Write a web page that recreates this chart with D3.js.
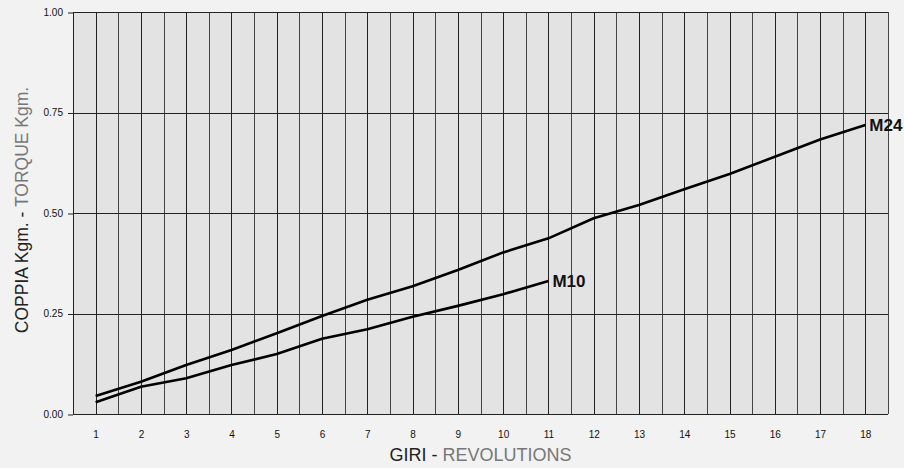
<!DOCTYPE html>
<html>
<head>
<meta charset="utf-8">
<script src="https://cdn.jsdelivr.net/npm/d3@7"></script>
<style>
  html, body { margin: 0; padding: 0; background: #f2f2f2; }
  svg { display: block; font-family: "Liberation Sans", Arial, sans-serif; }
</style>
</head>
<body>
<div id="chart"></div>
<script>
var revs = [1, 2, 3, 4, 5, 6, 7, 8, 9, 10, 11, 12, 13, 14, 15, 16, 17, 18];
var m24 = [0.045, 0.080, 0.122, 0.159, 0.201, 0.244, 0.284, 0.318, 0.358, 0.402, 0.437,
           0.487, 0.520, 0.559, 0.597, 0.640, 0.683, 0.719];
var m10 = [0.029, 0.068, 0.089, 0.122, 0.149, 0.187, 0.211, 0.242, 0.269, 0.298, 0.331];
var yTicks = [0, 0.25, 0.5, 0.75, 1];
var seriesNames = ["M24", "M10"];

function chart() {
    var W = 904, H = 468;
    var margin = {top: 12, right: 16, bottom: 54, left: 73},
        width = W - margin.left - margin.right,
        height = H - margin.top - margin.bottom;

    var x = d3.scaleLinear().domain([0.5, 18.5]).range([0, width]);
    var y = d3.scaleLinear().domain([0, 1]).range([height, 0]);

    var svg = d3.select("#chart").append("svg")
        .attr("width", W)
        .attr("height", H);

    var g = svg.append("g")
        .attr("transform", "translate(" + margin.left + "," + margin.top + ")");

    // plot background
    g.append("rect")
        .attr("width", width)
        .attr("height", height)
        .attr("fill", "#e3e3e3");

    // vertical grid every half revolution
    var halfSteps = d3.range(1, 37).map(function(i) { return 0.5 + i * 0.5; });
    g.append("g")
        .selectAll("line")
        .data(halfSteps)
        .enter().append("line")
        .attr("x1", function(d) { return Math.round(x(d)) + 0.5; })
        .attr("x2", function(d) { return Math.round(x(d)) + 0.5; })
        .attr("y1", 0)
        .attr("y2", height)
        .attr("stroke", function(d) { return d % 1 === 0 ? "#222" : "#444"; })
        .attr("stroke-width", 1);

    // horizontal grid
    g.append("g")
        .selectAll("line")
        .data(yTicks)
        .enter().append("line")
        .attr("x1", 0)
        .attr("x2", width)
        .attr("y1", function(d) { return Math.round(y(d)) + 0.5; })
        .attr("y2", function(d) { return Math.round(y(d)) + 0.5; })
        .attr("stroke", "#222");

    // left edge
    g.append("line")
        .attr("x1", 0.5).attr("x2", 0.5)
        .attr("y1", 0).attr("y2", height)
        .attr("stroke", "#222");

    // y axis
    var yAxis = d3.axisLeft(y)
        .tickValues(yTicks)
        .tickFormat(d3.format(".2f"))
        .tickSize(5)
        .tickPadding(5);
    var ya = g.append("g").call(yAxis);
    ya.select(".domain").remove();
    ya.selectAll("line").attr("stroke", "#222")
        .attr("transform", "translate(0,0.5)");
    ya.selectAll("text")
        .attr("font-size", 10)
        .attr("fill", "#111")
        .attr("font-family", "Liberation Sans, Arial, sans-serif");

    // x axis labels
    var xAxis = d3.axisBottom(x)
        .tickValues(revs)
        .tickFormat(d3.format("d"))
        .tickSize(0)
        .tickPadding(17);
    var xa = g.append("g")
        .attr("transform", "translate(0," + height + ")")
        .call(xAxis);
    xa.select(".domain").remove();
    xa.selectAll("text")
        .attr("font-size", 10)
        .attr("fill", "#111")
        .attr("font-family", "Liberation Sans, Arial, sans-serif");

    // lines
    var line = d3.line()
        .x(function(d, i) { return x(revs[i]); })
        .y(function(d) { return y(d); });

    [m24, m10].forEach(function(s, k) {
        g.append("path")
            .datum(s)
            .attr("fill", "none")
            .attr("stroke", "#000")
            .attr("stroke-width", 2.6)
            .attr("stroke-linejoin", "round")
            .attr("d", line);

        var last = s.length - 1;
        g.append("text")
            .attr("x", x(revs[last]) + 4)
            .attr("y", y(s[last]))
            .attr("dy", "0.36em")
            .attr("font-size", 17)
            .attr("font-weight", "bold")
            .attr("fill", "#111")
            .text(seriesNames[k]);
    });

    // axis titles
    var xt = svg.append("text")
        .attr("x", margin.left + width / 2)
        .attr("y", 461)
        .attr("text-anchor", "middle")
        .attr("font-size", 18);
    xt.append("tspan").attr("fill", "#222").text("GIRI - ");
    xt.append("tspan").attr("fill", "#777").text("REVOLUTIONS");

    var yt = svg.append("text")
        .attr("transform", "translate(28," + 210 + ") rotate(-90)")
        .attr("text-anchor", "middle")
        .attr("font-size", 17.5);
    yt.append("tspan").attr("fill", "#222").text("COPPIA Kgm. - ");
    yt.append("tspan").attr("fill", "#777").text("TORQUE Kgm.");
}
chart();
</script>
</body>
</html>
